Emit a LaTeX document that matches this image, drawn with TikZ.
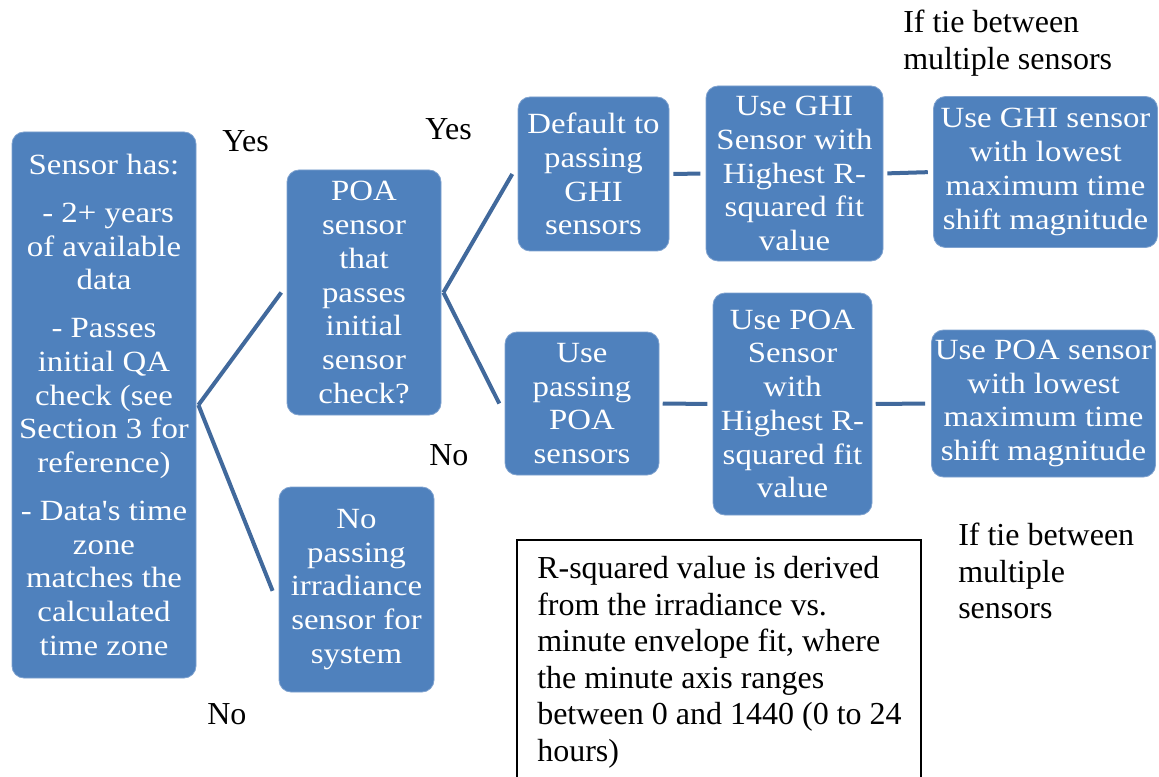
\documentclass[tikz,border=0pt]{standalone}
\usepackage{fontspec}
\setmainfont{Liberation Serif}
\newfontfamily\boxfont[FakeStretch=1.12]{Liberation Serif}
\usetikzlibrary{calc}
\definecolor{boxblue}{HTML}{4F81BD}
\definecolor{linkblue}{HTML}{41699C}
\definecolor{boxedge}{HTML}{7FA2CF}
\begin{document}
\begin{tikzpicture}[x=0.75pt,y=-0.75pt,
  box/.style={rectangle, rounded corners=9pt, fill=boxblue, draw=boxedge, line width=0.6pt,
    text=white, align=center, inner sep=0pt, font=\boxfont\fontsize{22}{25.3}\selectfont},
  link/.style={draw=linkblue, line width=3pt},
  lbl/.style={inner sep=0pt, font=\fontsize{24}{27.4}\selectfont, align=left}]
\useasboundingbox (0,0) rectangle (1159,777);
\fill[white] (0,0) rectangle (1159,777);

% boxes
\node[box, minimum width=138pt, minimum height=409.5pt] (s1) at (104,405)
  {Sensor has:\\[10.5pt]\ - 2+ years\\of available\\data\\[10.5pt]- Passes\\initial QA\\check (see\\Section 3 for\\reference)\\[10.5pt]- Data's time\\zone\\matches the\\calculated\\time zone};
\node[box, minimum width=115.5pt, minimum height=183.75pt] (poa) at (364,292.5)
  {POA\\sensor\\that\\passes\\initial\\sensor\\check?};
\node[box, minimum width=116.25pt, minimum height=153.75pt] (nopass) at (356.5,589.5)
  {No\\passing\\irradiance\\sensor for\\system};
\node[box, minimum width=113.25pt, minimum height=115.5pt] (def) at (593.5,174)
  {Default to\\passing\\GHI\\sensors};
\node[box, minimum width=115.5pt, minimum height=107.25pt] (usepoa) at (582,403.5)
  {Use\\passing\\POA\\sensors};
\node[box, minimum width=132.75pt, minimum height=131.25pt] (ghihi) at (794.5,173.5)
  {Use GHI\\Sensor with\\Highest R-\\squared fit\\value};
\node[box, minimum width=119.25pt, minimum height=166.5pt] (poahi) at (792.5,404)
  {Use POA\\Sensor\\with\\Highest R-\\squared fit\\value};
\node[box, minimum width=168pt, minimum height=113.25pt] (ghilo) at (1045.5,172)
  {Use GHI sensor\\with lowest\\maximum time\\shift magnitude};
\node[box, minimum width=168pt, minimum height=110.25pt] (poalo) at (1043.5,403.5)
  {Use POA sensor\\with lowest\\maximum time\\shift magnitude};

% connectors
\draw[link] ([xshift=1.5pt]s1.east) -- ([xshift=-4pt]poa.west);
\draw[link] ([xshift=1.5pt]s1.east) -- ([xshift=-4.5pt,yshift=-1pt]nopass.west);
\draw[link] ([xshift=1.5pt]poa.east) -- ([xshift=-4pt]def.west);
\draw[link] ([xshift=1.5pt]poa.east) -- ([xshift=-4pt]usepoa.west);
\draw[link, shorten <=3pt, shorten >=4pt] (def.east) -- (ghihi.west);
\draw[link, shorten <=3pt, shorten >=4pt] (ghihi.east) -- (ghilo.west);
\draw[link, shorten <=2.5pt, shorten >=4pt] (usepoa.east) -- (poahi.west);
\draw[link, shorten <=2.5pt, shorten >=4.5pt] (poahi.east) -- (poalo.west);

% labels
\node[lbl, anchor=base west] (yes1) at (222,152) {Yes};
\node[lbl, anchor=base west] (yes2) at (425,140) {Yes};
\node[lbl, anchor=base west] (no1) at (207,724) {No};
\node[lbl, anchor=base west] (no2) at (429,465) {No};
\node[lbl, anchor=north west] (tie1) at (903,10) {If tie between\\multiple sensors};
\node[lbl, anchor=north west] (tie2) at (958,523) {If tie between\\multiple\\sensors};

% note box
\begin{scope}
\clip (0,0) rectangle (1159,777);
\draw[line width=1.5pt] (517,800) -- (517,540) -- (921,540) -- (921,800);
\end{scope}
\node[lbl, anchor=north west] (note) at (537,556)
  {R-squared value is derived\\from the irradiance vs.\\minute envelope fit, where\\the minute axis ranges\\between 0 and 1440 (0 to 24\\hours)};
\end{tikzpicture}
\end{document}
